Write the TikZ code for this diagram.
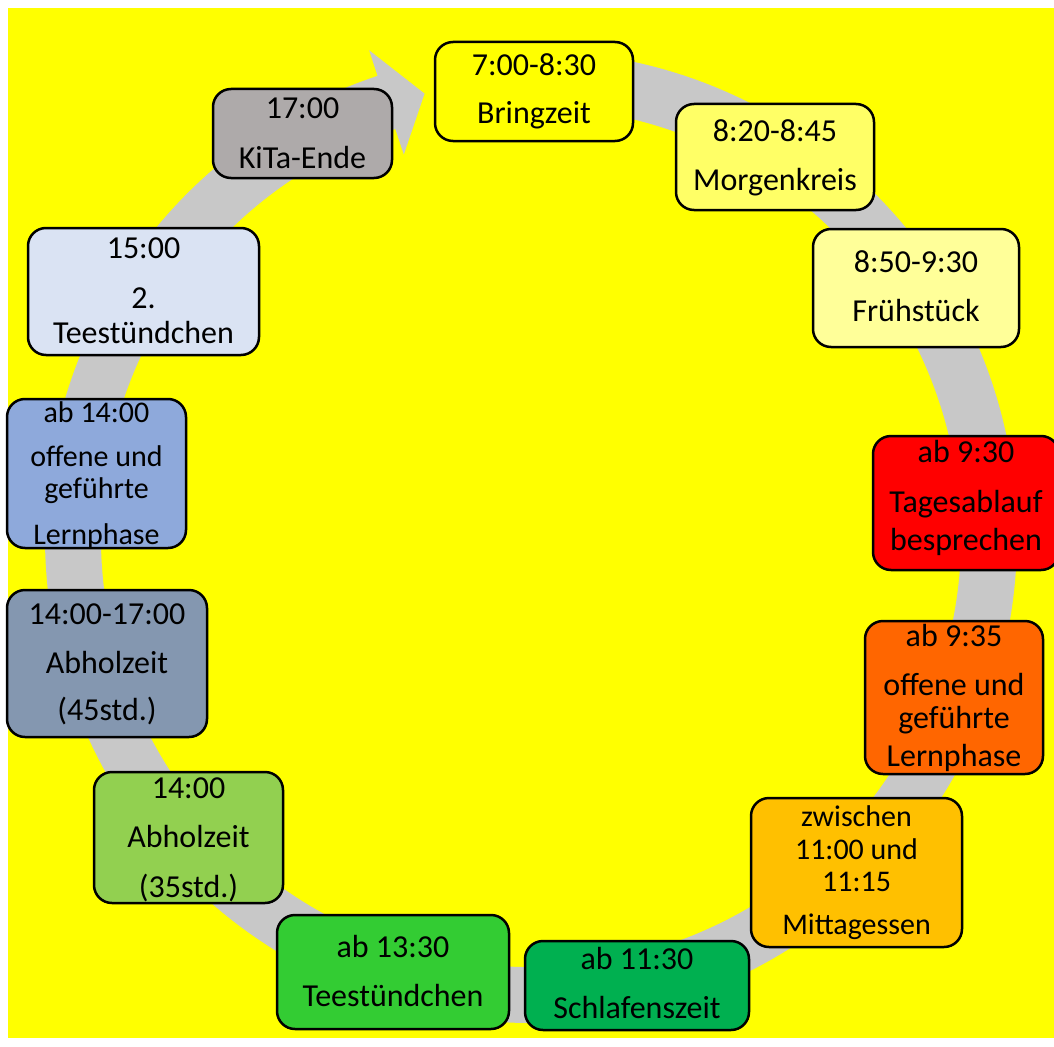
\documentclass[tikz,border=0pt]{standalone}
\usepackage{fontspec}
\setmainfont{Carlito}
\begin{document}
\begin{tikzpicture}[x=1pt,y=-1pt,
  tbox/.style={draw=black, line width=2.5pt, rounded corners=18pt, inner sep=0pt},
  lbl/.style={anchor=base, inner sep=0pt, font=\fontsize{32}{38}\selectfont},
  lbls/.style={anchor=base, inner sep=0pt, font=\fontsize{30}{36}\selectfont}]
\definecolor{bgyellow}{HTML}{FFFF00}
\definecolor{ringgray}{RGB}{200,200,200}
\definecolor{cA}{HTML}{FFFF00}
\definecolor{cB}{HTML}{FFFF66}
\definecolor{cC}{HTML}{FFFF99}
\definecolor{cD}{HTML}{FF0000}
\definecolor{cE}{HTML}{FF6600}
\definecolor{cF}{HTML}{FFC000}
\definecolor{cG}{HTML}{00B050}
\definecolor{cH}{HTML}{33CC33}
\definecolor{cI}{HTML}{92D050}
\definecolor{cJ}{HTML}{8497B0}
\definecolor{cK}{HTML}{8EA9DB}
\definecolor{cL}{HTML}{DAE3F3}
\definecolor{cM}{HTML}{AEAAAA}
\useasboundingbox (0,0) rectangle (1054,1046);
\fill[white] (0,0) rectangle (1054,1046);
\fill[bgyellow] (8,8) rectangle (1054,1038);
% circular arrow
\begin{scope}[shift={(531,537)}, y=1pt]
  \fill[ringgray] (90:486pt) arc[start angle=90, end angle=-251.6, radius=486pt]
    -- (108.4:513pt) -- (103.5:456pt) -- (108.4:403pt) -- (108.4:430pt)
    arc[start angle=-251.6, end angle=90, radius=430pt] -- cycle;
\end{scope}
% boxes
\node[tbox, fill=cA, minimum width=198pt, minimum height=99pt] (b1) at (534,91.5) {};
\node[tbox, fill=cB, minimum width=198pt, minimum height=106pt] (b2) at (775,157) {};
\node[tbox, fill=cC, minimum width=206pt, minimum height=118pt] (b3) at (916,288) {};
\node[tbox, fill=cD, minimum width=186pt, minimum height=134pt] (b4) at (966,503) {};
\node[tbox, fill=cE, minimum width=178pt, minimum height=153pt] (b5) at (954,697.5) {};
\node[tbox, fill=cF, minimum width=211pt, minimum height=149pt] (b6) at (856.5,872.5) {};
\node[tbox, fill=cG, minimum width=224pt, minimum height=89pt] (b7) at (637,985.5) {};
\node[tbox, fill=cH, minimum width=232pt, minimum height=114pt] (b8) at (393,972) {};
\node[tbox, fill=cI, minimum width=189pt, minimum height=131pt] (b9) at (188.5,837.5) {};
\node[tbox, fill=cJ, minimum width=200pt, minimum height=147pt] (b10) at (107,663.5) {};
\node[tbox, fill=cK, minimum width=179pt, minimum height=149pt] (b11) at (96.5,473.5) {};
\node[tbox, fill=cL, minimum width=231pt, minimum height=127pt] (b12) at (143.5,291.5) {};
\node[tbox, fill=cM, minimum width=179pt, minimum height=89pt] (b13) at (302.5,133.5) {};
% texts
\node[lbl] (t1a) at (534,76) {7:00-8:30};
\node[lbl] (t1b) at (534,124) {Bringzeit};
\node[lbl] (t2a) at (775,141) {8:20-8:45};
\node[lbl] (t2b) at (775,190) {Morgenkreis};
\node[lbl] (t3a) at (916,272) {8:50-9:30};
\node[lbl] (t3b) at (916,321) {Frühstück};
\node[lbl] (t4a) at (966,462) {ab 9:30};
\node[lbl] (t4b) at (966,512) {Tagesablauf};
\node[lbl] (t4c) at (966,550) {besprechen};
\node[lbl] (t5a) at (954,646) {ab 9:35};
\node[lbl] (t5b) at (954,695) {offene und};
\node[lbl] (t5c) at (954,728) {geführte};
\node[lbl] (t5d) at (954,766) {Lernphase};
\node[lbls] (t6a) at (856.5,826) {zwischen};
\node[lbls] (t6b) at (856.5,859) {11:00 und};
\node[lbls] (t6c) at (856.5,891) {11:15};
\node[lbls] (t6d) at (856.5,934) {Mittagessen};
\node[lbl] (t7a) at (637,969) {ab 11:30};
\node[lbl] (t7b) at (637,1018) {Schlafenszeit};
\node[lbl] (t8a) at (393,957) {ab 13:30};
\node[lbl] (t8b) at (393,1006) {Teestündchen};
\node[lbl] (t9a) at (188.5,798) {14:00};
\node[lbl] (t9b) at (188.5,847) {Abholzeit};
\node[lbl] (t9c) at (188.5,897) {(35std.)};
\node[lbl] (t10a) at (107,624) {14:00-17:00};
\node[lbl] (t10b) at (107,673) {Abholzeit};
\node[lbl] (t10c) at (107,720) {(45std.)};
\node[lbls] (t11a) at (96.5,422) {ab 14:00};
\node[lbls] (t11b) at (96.5,466) {offene und};
\node[lbls] (t11c) at (96.5,498) {geführte};
\node[lbls] (t11d) at (96.5,544) {Lernphase};
\node[lbl] (t12a) at (143.5,258) {15:00};
\node[lbl] (t12b) at (143.5,308) {2.};
\node[lbl] (t12c) at (143.5,343) {Teestündchen};
\node[lbl] (t13a) at (302.5,118) {17:00};
\node[lbl] (t13b) at (302.5,168) {KiTa-Ende};
\end{tikzpicture}
\end{document}
